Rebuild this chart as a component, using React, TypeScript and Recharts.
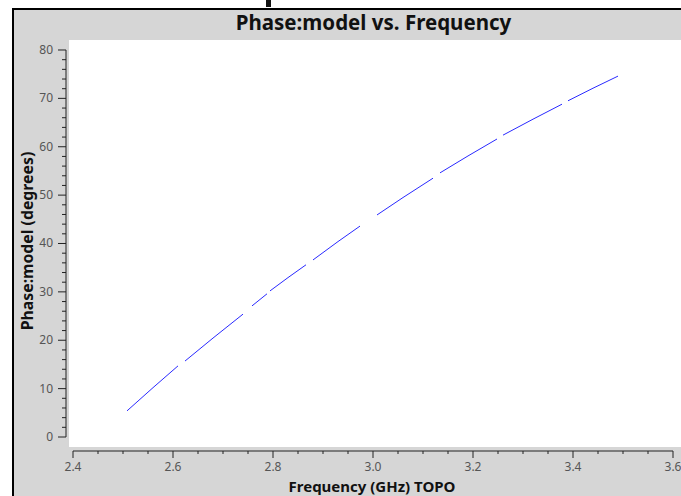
import React from 'react';
import {
  LineChart,
  Line,
  XAxis,
  YAxis,
  ReferenceArea,
  ReferenceLine,
} from 'recharts';

// Frequency (GHz) and model phase (degrees).
// null rows mark the gaps between spectral windows.
const freqs = [
  2.508, 2.56, 2.61, 2.617,
  2.624, 2.68, 2.74, 2.749,
  2.758, 2.788, 2.791,
  2.794, 2.83, 2.866, 2.873,
  2.88, 2.93, 2.974, 2.99,
  3.008, 3.06, 3.12, 3.127,
  3.134, 3.19, 3.248, 3.254,
  3.26, 3.32, 3.378, 3.384,
  3.39, 3.44, 3.49,
];
const phases: (number | null)[] = [
  5.4, 10.2, 14.7, null,
  15.7, 20.45, 25.4, null,
  27.1, 29.6, null,
  30.2, 32.95, 35.6, null,
  36.6, 40.4, 43.6, null,
  45.9, 49.5, 53.5, null,
  54.6, 58.1, 61.6, null,
  62.4, 65.7, 68.8, null,
  69.5, 72.1, 74.6,
];

const xTicks = [
  2.4, 2.45, 2.5, 2.55, 2.6, 2.65, 2.7, 2.75, 2.8, 2.85, 2.9, 2.95, 3.0,
  3.05, 3.1, 3.15, 3.2, 3.25, 3.3, 3.35, 3.4, 3.45, 3.5, 3.55, 3.6,
];
const yTicks = [
  0, 2, 4, 6, 8, 10, 12, 14, 16, 18, 20, 22, 24, 26, 28, 30, 32, 34, 36, 38,
  40, 42, 44, 46, 48, 50, 52, 54, 56, 58, 60, 62, 64, 66, 68, 70, 72, 74, 76,
  78, 80,
];

const data = freqs.map((f, i) => ({ freq: f, phase: phases[i] }));

const FONT = '"Noto Sans", "Open Sans", sans-serif';
const GRAY = '#d6d6d6';

const renderXTick = (props: any) => {
  const { x, y, payload } = props;
  const v = payload.value;
  const major = Math.abs(v * 5 - Math.round(v * 5)) < 1e-6;
  return (
    <g key={`xt-${v}`}>
      <line x1={x} y1={y} x2={x} y2={y + (major ? 7 : 3)} stroke="#222" strokeWidth={1} />
      {major && (
        <text x={x} y={y + 20} textAnchor="middle" fontSize={12} fill="#555" fontFamily={FONT}>
          {v.toFixed(1)}
        </text>
      )}
    </g>
  );
};

const renderYTick = (props: any) => {
  const { x, y, payload } = props;
  const v = payload.value;
  const major = v % 10 === 0;
  return (
    <g key={`yt-${v}`}>
      <line x1={x - (major ? 8 : 4)} y1={y} x2={x} y2={y} stroke="#222" strokeWidth={1} />
      {major && (
        <text x={x - 13} y={y + 4} textAnchor="end" fontSize={12} fill="#555" fontFamily={FONT}>
          {v}
        </text>
      )}
    </g>
  );
};

export default function App() {
  return (
    <div
      style={{
        position: 'absolute',
        left: 0,
        top: 0,
        width: 681,
        height: 496,
        background: '#fff',
        overflow: 'hidden',
        fontFamily: FONT,
      }}
    >
      {/* cut-off fragment above the frame */}
      <div style={{ position: 'absolute', left: 266, top: 0, width: 5, height: 7, background: '#111' }} />
      <div
        style={{
          position: 'absolute',
          left: 12,
          top: 8,
          width: 681,
          height: 500,
          background: GRAY,
          borderLeft: '2px solid #000',
          borderTop: '2px solid #000',
        }}
      />
      <div
        style={{
          position: 'absolute',
          left: 66,
          width: 615,
          top: 9,
          textAlign: 'center',
          fontSize: 20.5,
          fontWeight: 'bold',
          color: '#111',
          lineHeight: '26px',
        }}
      >
        Phase:model vs. Frequency
      </div>
      <div
        style={{
          position: 'absolute',
          left: 66,
          width: 612,
          top: 477,
          textAlign: 'center',
          fontSize: 15,
          fontWeight: 'bold',
          color: '#111',
          lineHeight: '18px',
        }}
      >
        Frequency (GHz) TOPO
      </div>
      <div
        style={{
          position: 'absolute',
          left: 27,
          top: 241,
          transform: 'translate(-50%, -50%) rotate(-90deg)',
          whiteSpace: 'nowrap',
          fontSize: 15.8,
          fontWeight: 'bold',
          color: '#111',
          lineHeight: '20px',
        }}
      >
        Phase:model (degrees)
      </div>
      <div style={{ position: 'absolute', left: 0, top: 0 }}>
        <LineChart
          width={681}
          height={496}
          data={data}
          margin={{ top: 40, right: 0, bottom: 5, left: 6 }}
        >
          <XAxis
            type="number"
            dataKey="freq"
            domain={[2.386, 3.616]}
            ticks={xTicks}
            interval={0}
            height={40}
            axisLine={false}
            tickLine={false}
            tickSize={0}
            tickMargin={0}
            tick={renderXTick}
            allowDataOverflow
          />
          <YAxis
            type="number"
            domain={[-2.894, 82.067]}
            ticks={yTicks}
            interval={0}
            width={60}
            axisLine={false}
            tickLine={false}
            tickSize={0}
            tickMargin={0}
            tick={renderYTick}
            allowDataOverflow
          />
          <ReferenceArea
            x1={2.392}
            x2={3.616}
            y1={-2.07}
            y2={82.067}
            fill="#fff"
            fillOpacity={1}
            stroke="none"
            ifOverflow="visible"
          />
          <ReferenceLine
            segment={[{ x: 2.4, y: -2.894 }, { x: 3.6, y: -2.894 }]}
            stroke="#222"
            strokeWidth={1}
            ifOverflow="visible"
          />
          <ReferenceLine
            segment={[{ x: 2.386, y: 0 }, { x: 2.386, y: 80 }]}
            stroke="#222"
            strokeWidth={1}
            ifOverflow="visible"
          />
          <Line
            type="linear"
            dataKey="phase"
            stroke="#2a2aff"
            strokeWidth={1}
            dot={false}
            connectNulls={false}
            isAnimationActive={false}
          />
        </LineChart>
      </div>
    </div>
  );
}
